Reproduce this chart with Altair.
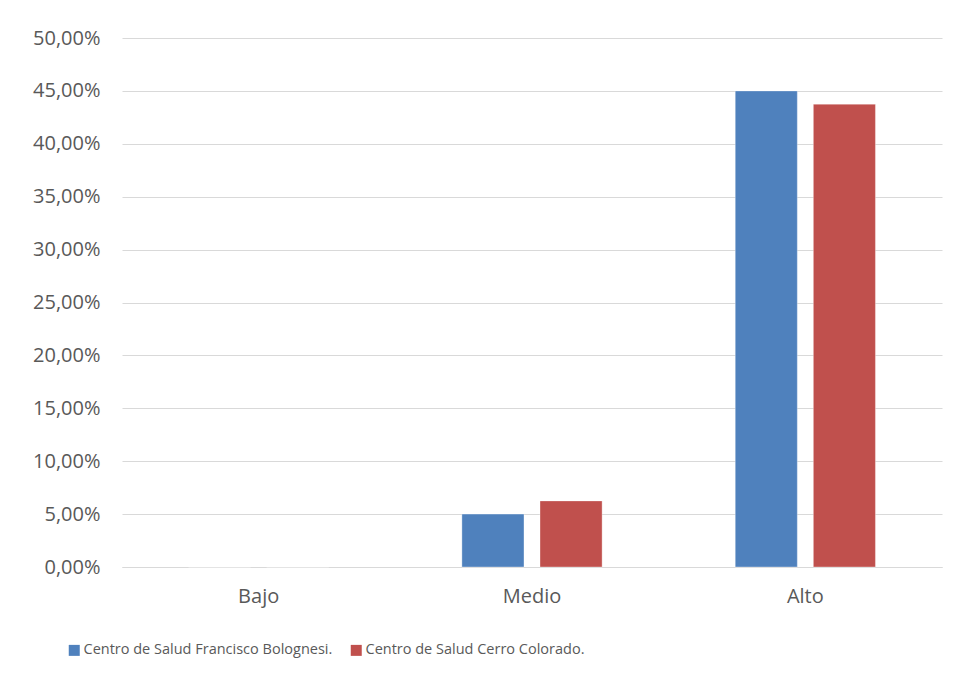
import altair as alt
import pandas as pd

categories = ["Bajo", "Medio", "Alto"]
series = ["Centro de Salud Francisco Bolognesi.", "Centro de Salud Cerro Colorado."]
bolognesi = [0.0, 0.05, 0.45]
cerro = [0.0, 0.0625, 0.4375]
colors = ["#4F81BD", "#C0504D"]

rows = []
for i, c in enumerate(categories):
    rows.append({"nivel": c, "centro": series[0], "valor": bolognesi[i]})
    rows.append({"nivel": c, "centro": series[1], "valor": cerro[i]})
df = pd.DataFrame(rows)

font = "Open Sans"
txt = "#595959"

chart = alt.Chart(df).mark_bar(stroke="#ffffff", strokeOpacity=0.35, strokeWidth=1).encode(
    x=alt.X("nivel:N", sort=categories, title=None,
            scale=alt.Scale(paddingInner=0.487, paddingOuter=0.2435),
            axis=alt.Axis(labelAngle=0, ticks=False, domain=True, domainColor="#d9d9d9",
                          labelFont=font, labelFontSize=20, labelColor=txt, labelPadding=19)),
    xOffset=alt.XOffset("centro:N", sort=series,
                        scale=alt.Scale(paddingInner=0.205, paddingOuter=0)),
    y=alt.Y("valor:Q", title=None,
            scale=alt.Scale(domain=[0, 0.5]),
            axis=alt.Axis(values=[i * 0.05 for i in range(11)], grid=True, gridColor="#d9d9d9",
                          domain=False, ticks=False,
                          labelExpr="replace(format(datum.value, '.2%'), '.', ',')",
                          labelFont=font, labelFontSize=20, labelColor=txt, labelPadding=22)),
    color=alt.Color("centro:N", sort=series, scale=alt.Scale(domain=series, range=colors),
                    legend=alt.Legend(title=None, orient="none", legendX=-55, legendY=605,
                                      direction="horizontal", columns=2, columnPadding=16,
                                      symbolType="square", symbolSize=121, symbolStrokeWidth=0,
                                      labelFont=font, labelFontSize=14.5, labelColor=txt,
                                      labelOffset=2, labelLimit=400)),
).properties(
    width=820, height=529,
    autosize=alt.AutoSizeParams(type="none"),
    padding={"left": 114, "top": 30, "right": 10, "bottom": 110},
).configure_view(stroke=None)

chart.save("out.html", embed_options={"renderer": "svg", "actions": False})
